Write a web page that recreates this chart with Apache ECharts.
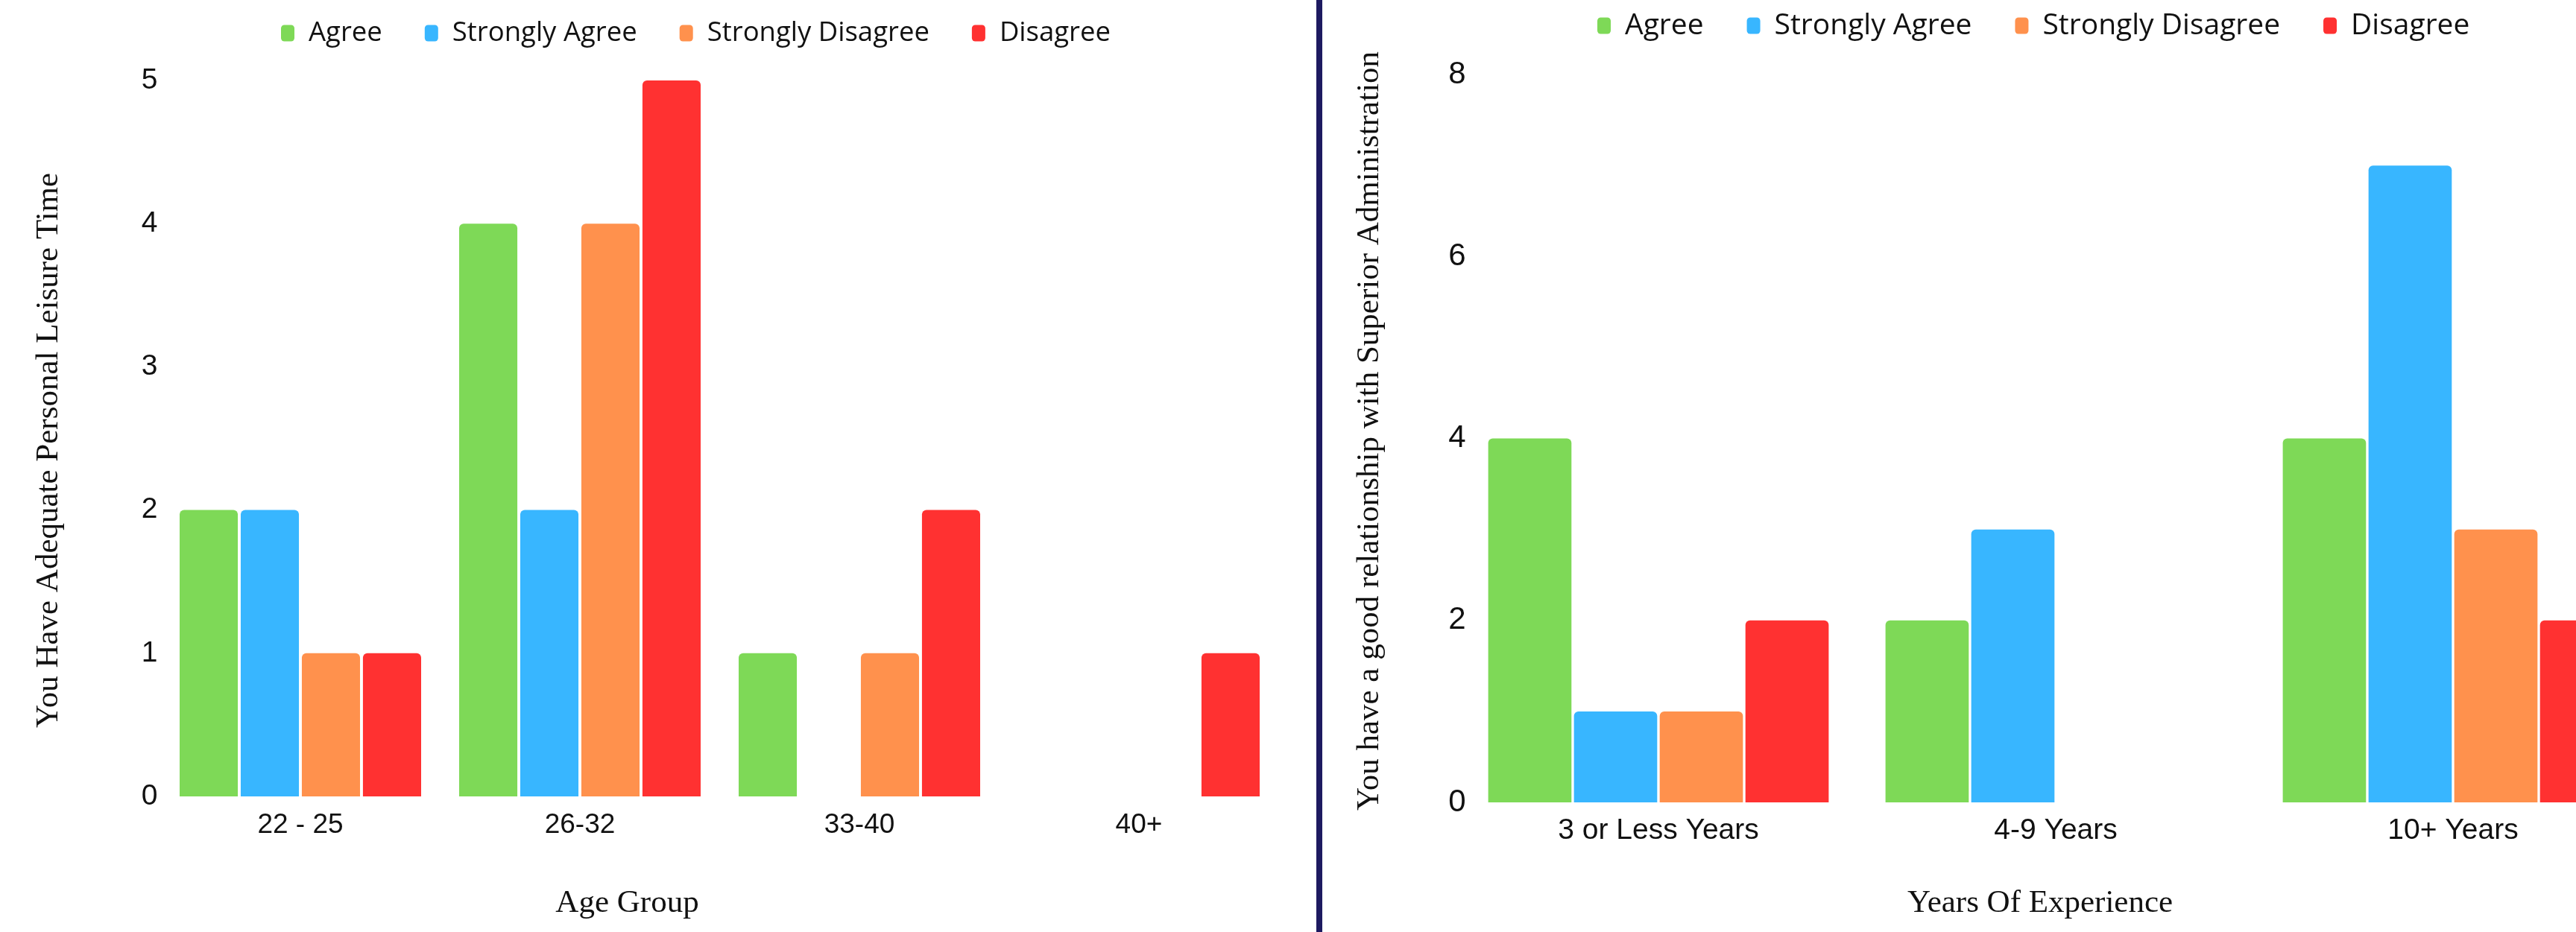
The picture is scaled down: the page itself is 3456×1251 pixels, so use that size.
<!DOCTYPE html>
<html>
<head>
<meta charset="utf-8">
<script src="https://cdn.jsdelivr.net/npm/echarts@6/dist/echarts.min.js"></script>
<style>
  html, body { margin: 0; padding: 0; background: #ffffff; }
  #wrap { position: relative; width: 3456px; height: 1251px; overflow: hidden; background: #ffffff; }
  #leftChart { position: absolute; left: 0; top: 0; width: 1766px; height: 1251px; }
  #divider { position: absolute; left: 1766px; top: 0; width: 8px; height: 1251px; background: #1d1a60; }
  #rightChart { position: absolute; left: 1774px; top: 0; width: 1682px; height: 1251px; }
</style>
</head>
<body>
<div id="wrap">
  <div id="leftChart"></div>
  <div id="divider"></div>
  <div id="rightChart"></div>
</div>
<script>
// Response categories shared by both panels
const responseNames = ['Agree', 'Strongly Agree', 'Strongly Disagree', 'Disagree'];
const responseColors = ['#7ED957', '#38B6FF', '#FF914D', '#FF3131'];

// Panel 1: leisure time by age group
const ageGroups = ['22 - 25', '26-32', '33-40', '40+'];
const leisureAgree = [2, 4, 1, 0];
const leisureStronglyAgree = [2, 2, 0, 0];
const leisureStronglyDisagree = [1, 4, 1, 0];
const leisureDisagree = [1, 5, 2, 1];
const leisureMax = 5;
const leisureStep = 1;

// Panel 2: relationship with administration by experience
const experienceGroups = ['3 or Less Years', '4-9 Years', '10+ Years'];
const relationAgree = [4, 2, 4];
const relationStronglyAgree = [1, 3, 7];
const relationStronglyDisagree = [1, 0, 3];
const relationDisagree = [2, 0, 2];
const relationMax = 8;
const relationStep = 2;

const serifFont = '"Liberation Serif", "Times New Roman", serif';
const sansFont = '"Liberation Sans", Arial, sans-serif';
const legendFont = '"Open Sans", "Noto Sans", sans-serif';

function buildSeries(valueLists, barCategoryGap, barGap) {
  return valueLists.map(function (values, i) {
    return {
      name: responseNames[i],
      type: 'bar',
      data: values,
      barCategoryGap: barCategoryGap,
      barGap: barGap,
      itemStyle: { color: responseColors[i], borderRadius: [6, 6, 0, 0] },
      emphasis: { disabled: true }
    };
  });
}

function buildOption(cfg) {
  return {
    animation: false,
    color: responseColors,
    legend: {
      data: responseNames,
      left: cfg.legendLeft,
      top: cfg.legendTop,
      icon: 'roundRect',
      itemWidth: 18,
      itemHeight: 22,
      itemGap: cfg.legendGap,
      textStyle: {
        fontFamily: legendFont,
        fontSize: cfg.legendSize,
        color: '#111111',
        padding: [0, 0, 0, 14]
      }
    },
    grid: Object.assign({ outerBoundsMode: 'none', containLabel: false }, cfg.grid),
    xAxis: {
      type: 'category',
      data: cfg.categories,
      axisLine: { show: false },
      axisTick: { show: false },
      splitLine: { show: false },
      axisLabel: {
        fontFamily: sansFont,
        fontSize: cfg.catSize,
        color: '#111111',
        margin: cfg.catMargin
      },
      name: cfg.xName,
      nameLocation: 'middle',
      nameGap: cfg.xNameGap,
      nameTextStyle: {
        fontFamily: serifFont,
        fontSize: 43,
        color: '#111111',
        padding: cfg.xNamePadding
      }
    },
    yAxis: {
      type: 'value',
      min: 0,
      max: cfg.yMax,
      interval: cfg.yStep,
      axisLine: { show: false },
      axisTick: { show: false },
      splitLine: { show: false },
      axisLabel: {
        fontFamily: sansFont,
        fontSize: cfg.tickSize,
        color: '#111111',
        margin: cfg.tickMargin
      },
      name: cfg.yName,
      nameLocation: 'middle',
      nameRotate: 90,
      nameGap: cfg.yNameGap,
      nameTextStyle: {
        fontFamily: serifFont,
        fontSize: 43,
        color: '#111111',
        padding: cfg.yNamePadding
      }
    },
    series: buildSeries(cfg.values, cfg.barCategoryGap, cfg.barGap)
  };
}

const leftChart = echarts.init(document.getElementById('leftChart'), null, { renderer: 'canvas' });
leftChart.setOption(buildOption({
  categories: ageGroups,
  values: [leisureAgree, leisureStronglyAgree, leisureStronglyDisagree, leisureDisagree],
  yMax: leisureMax,
  yStep: leisureStep,
  grid: { left: 215.5, right: 50.5, top: 108, bottom: 182 },
  legendLeft: 372,
  legendTop: 21,
  legendGap: 57,
  legendSize: 36.5,
  catSize: 37,
  catMargin: 20,
  tickSize: 39,
  tickMargin: 4,
  xName: 'Age Group',
  xNameGap: 122,
  xNamePadding: [0, 248, 0, 0],
  yName: 'You Have Adequate Personal Leisure Time',
  yNameGap: 128,
  yNamePadding: [0, 32, 0, 0],
  barCategoryGap: '13.6%',
  barGap: '5%'
}));

const rightChart = echarts.init(document.getElementById('rightChart'), null, { renderer: 'canvas' });
rightChart.setOption(buildOption({
  categories: experienceGroups,
  values: [relationAgree, relationStronglyAgree, relationStronglyDisagree, relationDisagree],
  yMax: relationMax,
  yStep: relationStep,
  grid: { left: 184.5, right: -101.5, top: 100, bottom: 174 },
  legendLeft: 364,
  legendTop: 10,
  legendGap: 58,
  legendSize: 39,
  catSize: 39,
  catMargin: 19,
  tickSize: 42,
  tickMargin: -8,
  xName: 'Years Of Experience',
  xNameGap: 114,
  xNamePadding: [0, 42, 0, 0],
  yName: 'You have a good relationship with Superior Administration',
  yNameGap: 99,
  yNamePadding: [0, 0, 0, 20],
  barCategoryGap: '14.3%',
  barGap: '3%'
}));
</script>
</body>
</html>
